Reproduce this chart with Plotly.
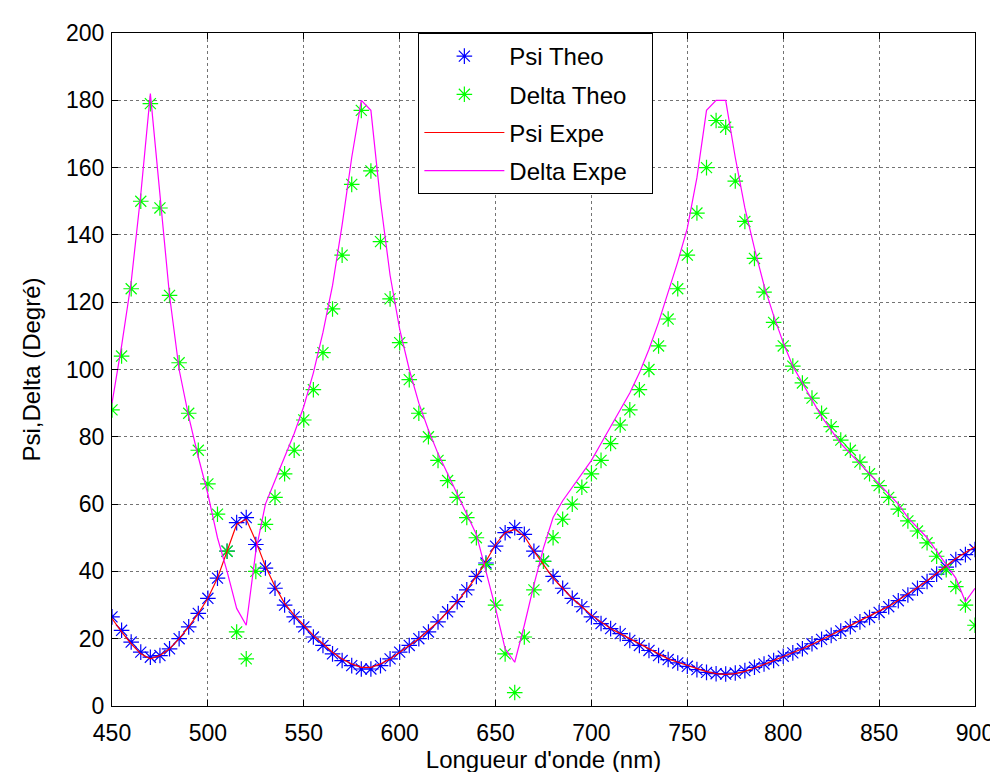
import plotly.graph_objects as go

# wavelengths (nm), 5 nm step
longueur = [450, 455, 460, 465, 470, 475, 480, 485, 490, 495,
            500, 505, 510, 515, 520, 525, 530, 535, 540, 545,
            550, 555, 560, 565, 570, 575, 580, 585, 590, 595,
            600, 605, 610, 615, 620, 625, 630, 635, 640, 645,
            650, 655, 660, 665, 670, 675, 680, 685, 690, 695,
            700, 705, 710, 715, 720, 725, 730, 735, 740, 745,
            750, 755, 760, 765, 770, 775, 780, 785, 790, 795,
            800, 805, 810, 815, 820, 825, 830, 835, 840, 845,
            850, 855, 860, 865, 870, 875, 880, 885, 890, 895, 900]

psi_theo = [26.5, 22.5, 19, 16, 14.5, 15, 17, 20, 23.5, 27.5,
            32, 38, 46, 54.5, 56, 48, 41, 35, 30, 26.5,
            23.5, 20.5, 18, 15.5, 13.5, 12, 11, 11, 12, 14,
            16, 18, 20, 22, 25, 28, 31, 34.5, 38.5, 42.5,
            47.5, 51.5, 53, 51, 46, 43, 38.5, 35, 32, 29.5,
            26.5, 24.5, 23, 21.5, 19.5, 18, 16.5, 15, 13.8, 12.8,
            11.8, 10.8, 10, 9.6, 9.5, 9.8, 10.5, 11.5, 12.5, 13.5,
            14.8, 15.8, 17, 18.5, 19.8, 21, 22.3, 23.6, 25, 26.3,
            27.8, 29.5, 31.3, 33, 35, 37, 39.2, 41.3, 43.5, 45, 46.5]

delta_theo = [88, 104, 124, 150, 179, 148, 122, 102, 87, 76,
              66, 57, 46, 22, 14, 40, 54, 62, 69, 76,
              85, 94, 105, 118, 134, 155, 177, 159, 138, 121,
              108, 97, 87, 80, 73, 67, 62, 56, 50, 42,
              30, 15.5, 4, 20.5, 34.5, 43, 50, 55.5, 60, 65,
              69, 73, 78, 83.5, 88, 94, 100, 107, 115, 124,
              134, 146.5, 160, 174, 172, 156, 144, 133, 123, 114,
              107, 101, 96, 91.5, 87, 83, 79, 76, 72.5, 69,
              65.5, 62, 58.5, 55, 52, 48.5, 44.5, 40.5, 35.5, 30, 24]

psi_expe = [26, 22, 18.5, 15.5, 14, 15, 17, 20, 23.5, 27.5,
            32, 38, 46, 54, 55.5, 49, 41.5, 35.5, 30.5, 27,
            24, 21, 18.5, 16, 14, 12.5, 11.5, 11.5, 12.5, 14,
            16, 18, 20, 22.5, 25, 28, 31, 34.5, 38.5, 43,
            48, 51.5, 52.5, 50.5, 46, 42, 38, 35, 32, 29.5,
            27, 25, 23, 21.5, 20, 18.5, 17, 15.5, 14, 13,
            12, 11, 10.2, 9.6, 9.4, 9.6, 10.3, 11.3, 12.3, 13.5,
            14.7, 15.8, 17, 18.3, 19.7, 21, 22.4, 23.8, 25.2, 26.6,
            28, 29.6, 31.4, 33.2, 35.2, 37.2, 39.4, 41.6, 43.8, 45.6, 47.3]

delta_expe = [90, 107, 126, 152, 182, 152, 122, 100, 86, 74,
              63, 50, 40, 29, 24, 46, 60, 67, 74, 81,
              89, 99, 111, 125, 143, 163, 180, 177, 150, 128,
              112, 100, 90, 82, 75, 69, 63, 57, 51, 40,
              29, 17, 13, 24, 36, 47, 56, 61, 65, 69,
              73, 78, 83, 88, 93, 99, 106, 114, 123, 132,
              142, 157, 177, 180, 180, 163, 148, 136, 125, 116,
              108, 101, 96, 91, 86, 82, 78, 75, 72, 69,
              66, 63, 60, 56, 53, 50, 46, 42, 38, 31, 35]

police = "Liberation Sans, Arial, sans-serif"
pad = "\u00a0" * 3  # widen the legend box a little

fig = go.Figure()

fig.add_trace(go.Scatter(x=longueur, y=psi_theo, mode="markers", name="Psi Theo" + pad,
                         legendgroup="a",
                         marker=dict(symbol="asterisk-open", size=13, color="#0000ff",
                                     line=dict(color="#0000ff", width=1.2))))
fig.add_trace(go.Scatter(x=longueur, y=delta_theo, mode="markers", name="Delta Theo" + pad,
                         legendgroup="b",
                         marker=dict(symbol="asterisk-open", size=13, color="#00ff00",
                                     line=dict(color="#00ff00", width=1.2))))
fig.add_trace(go.Scatter(x=longueur, y=psi_expe, mode="lines", name="Psi Expe" + pad,
                         legendgroup="c",
                         line=dict(color="#ff0000", width=1.2)))
fig.add_trace(go.Scatter(x=longueur, y=delta_expe, mode="lines", name="Delta Expe" + pad,
                         legendgroup="d",
                         line=dict(color="#ff00ff", width=1.2)))

axe = dict(showline=True, linecolor="black", linewidth=1, mirror="ticks",
           ticks="inside", ticklen=6, tickcolor="black",
           showgrid=True, gridcolor="rgba(0,0,0,0.55)", griddash="dot", gridwidth=1,
           zeroline=False, tickfont=dict(size=23, color="black", family=police))

fig.update_layout(
    width=998, height=772,
    margin=dict(l=104, r=26, t=16, b=74),
    paper_bgcolor="white", plot_bgcolor="white",
    font=dict(family=police, color="black"),
    xaxis=dict(axe, range=[450, 900], tickvals=[450, 500, 550, 600, 650, 700, 750, 800, 850, 900],
               ticklabelstandoff=6,
               title=dict(text="Longueur d'onde (nm)", font=dict(size=24), standoff=2)),
    yaxis=dict(axe, range=[0, 200], tickvals=[0, 20, 40, 60, 80, 100, 120, 140, 160, 180, 200],
               ticklabelstandoff=2,
               title=dict(text="Psi,Delta (Degré)", font=dict(size=24), standoff=18)),
    legend=dict(x=0.355, y=1, xanchor="left", yanchor="top",
                bordercolor="black", borderwidth=1, bgcolor="white",
                font=dict(size=24, color="black"), itemwidth=80,
                tracegroupgap=4),
    showlegend=True,
)

fig.write_html("out.html")
